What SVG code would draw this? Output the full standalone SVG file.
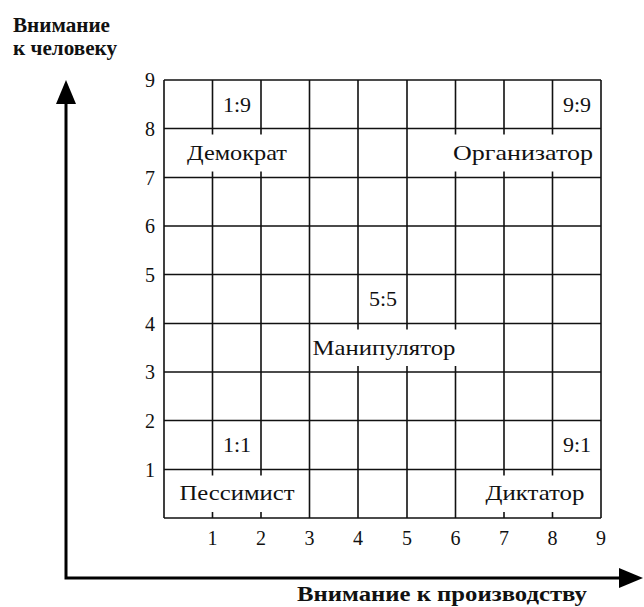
<svg xmlns="http://www.w3.org/2000/svg" width="644" height="607" viewBox="0 0 644 607">
<style>
.bg{fill:#fff}
.grid{stroke:#111;stroke-width:1.6;fill:none}
.axis{stroke:#000;stroke-width:3;fill:none}
.num{font-family:"Liberation Serif","Times New Roman",serif;font-size:20px;fill:#111;text-anchor:middle}
.lbl{font-family:"Liberation Serif","Times New Roman",serif;font-size:22px;fill:#111;text-anchor:middle}
.ttl{font-family:"Liberation Serif","Times New Roman",serif;font-size:20px;font-weight:bold;fill:#111}
</style>
<defs>
<marker id="ah" viewBox="0 0 24 20" refX="4" refY="10" markerWidth="24" markerHeight="20" markerUnits="userSpaceOnUse" orient="auto-start-reverse">
<path d="M0,0 L24,10 L0,20 z" fill="#000"/>
</marker>
</defs>
<rect class="bg" x="0" y="0" width="644" height="607"/>

<g id="axes">
<path class="axis" d="M66,100 V578 H623" marker-start="url(#ah)" marker-end="url(#ah)"/>
<text class="ttl" x="13" y="32" textLength="97" lengthAdjust="spacingAndGlyphs">Внимание</text>
<text class="ttl" x="13" y="55" textLength="104" lengthAdjust="spacingAndGlyphs">к человеку</text>
<text class="ttl" x="297" y="601" textLength="290" lengthAdjust="spacingAndGlyphs">Внимание к производству</text>
</g>

<g id="grid">
<path class="grid" d="M164,80 H601 M164,128.5 H601 M164,177.5 H601 M164,226 H601 M164,274.5 H601 M164,323.5 H601 M164,372 H601 M164,420.5 H601 M164,469.5 H601 M164,518 H601"/>
<path class="grid" d="M164,80 V518 M601,80 V518 M309.5,80 V518
M212.5,80 V134.5 M212.5,171.5 V475.5 M212.5,512 V518
M261,80 V134.5 M261,171.5 V475.5 M261,512 V518
M358,80 V329.5 M358,366 V518
M407,80 V329.5 M407,366 V518
M455.5,80 V134.5 M455.5,171.5 V329.5 M455.5,366 V518
M504,80 V134.5 M504,171.5 V475.5 M504,512 V518
M552.5,80 V134.5 M552.5,171.5 V475.5 M552.5,512 V518"/>
</g>

<g id="y-ticks">
<text class="num" x="150" y="87">9</text>
<text class="num" x="150" y="135.5">8</text>
<text class="num" x="150" y="184.5">7</text>
<text class="num" x="150" y="233">6</text>
<text class="num" x="150" y="281.5">5</text>
<text class="num" x="150" y="330.5">4</text>
<text class="num" x="150" y="379">3</text>
<text class="num" x="150" y="427.5">2</text>
<text class="num" x="150" y="476.5">1</text>
</g>
<g id="x-ticks">
<text class="num" x="212.5" y="545">1</text>
<text class="num" x="261" y="545">2</text>
<text class="num" x="309.5" y="545">3</text>
<text class="num" x="358" y="545">4</text>
<text class="num" x="407" y="545">5</text>
<text class="num" x="455.5" y="545">6</text>
<text class="num" x="504" y="545">7</text>
<text class="num" x="552.5" y="545">8</text>
<text class="num" x="601" y="545">9</text>
</g>

<g id="node-democrat">
<text class="lbl" x="237" y="112">1:9</text>
<text class="lbl" x="237" y="160" textLength="100" lengthAdjust="spacingAndGlyphs">Демократ</text>
</g>
<g id="node-organizer">
<text class="lbl" x="577" y="112">9:9</text>
<text class="lbl" x="523" y="160" textLength="140" lengthAdjust="spacingAndGlyphs">Организатор</text>
</g>
<g id="node-manipulator">
<text class="lbl" x="383" y="306">5:5</text>
<text class="lbl" x="384" y="355" textLength="143" lengthAdjust="spacingAndGlyphs">Манипулятор</text>
</g>
<g id="node-pessimist">
<text class="lbl" x="237" y="452">1:1</text>
<text class="lbl" x="237" y="500" textLength="115" lengthAdjust="spacingAndGlyphs">Пессимист</text>
</g>
<g id="node-dictator">
<text class="lbl" x="577" y="452">9:1</text>
<text class="lbl" x="535" y="500" textLength="99" lengthAdjust="spacingAndGlyphs">Диктатор</text>
</g>
</svg>
